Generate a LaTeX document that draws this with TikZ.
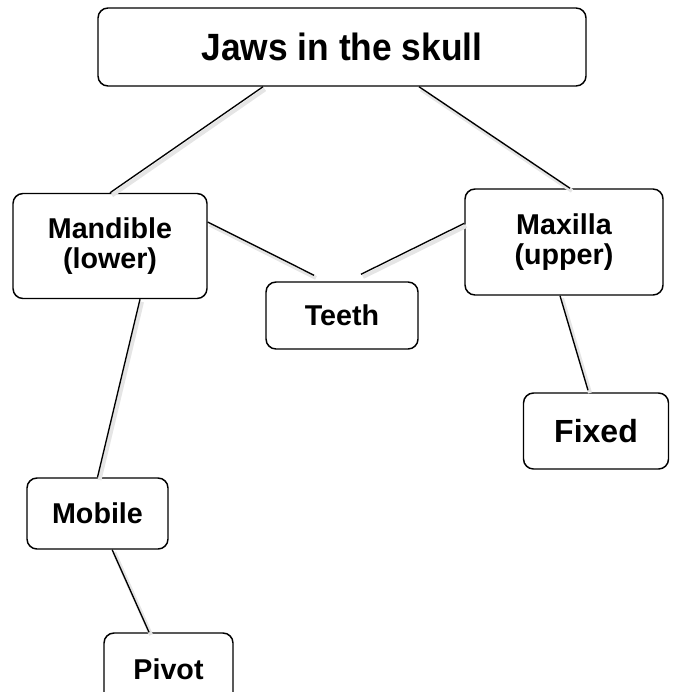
\documentclass[tikz,border=0pt]{standalone}
\usepackage{fontspec}
\setmainfont{Liberation Sans}
\newfontfamily\headfont[FakeStretch=0.93]{Liberation Sans}
\usepackage{tikz}
\usetikzlibrary{positioning,calc}
\tikzset{
  jawbox/.style  = {draw, line width=1.1pt, rectangle, rounded corners=7.5pt,
                    align=center, inner sep=2pt,
                    font=\bfseries\fontsize{21.5}{22.5}\selectfont},
  link/.style    = {line width=1pt,
                    preaction={draw=black!10, line width=3pt,
                               transform canvas={shift={(1.5pt,-2pt)}}}},
}

\begin{document}
\begin{tikzpicture}[x=0.75pt, y=-0.75pt]
\useasboundingbox (0,0) rectangle (672,692);
% ---- boxes ----
\node[jawbox, minimum width=366pt, minimum height=58.5pt,
      font=\headfont\bfseries\fontsize{28.5}{30}\selectfont] (title) at (342,47) {Jaws in the skull};
\node[jawbox, minimum width=145.5pt, minimum height=78.75pt] (mandible) at (110,246) {Mandible\\(lower)};
\node[jawbox, minimum width=148.5pt, minimum height=79.5pt] (maxilla) at (564,242) {Maxilla\\(upper)};
\node[jawbox, minimum width=114pt, minimum height=50.25pt] (teeth) at (342,315.5) {Teeth};
\node[jawbox, minimum width=108.75pt, minimum height=57pt,
      font=\bfseries\fontsize{24}{26}\selectfont] (fixed) at (596,431) {Fixed};
\node[jawbox, minimum width=105.75pt, minimum height=53.25pt] (mobile) at (97.5,513.5) {Mobile};
\node[jawbox, minimum width=96.75pt, minimum height=54pt] (pivot) at (168.5,669) {Pivot};
% ---- connectors ----
\draw[link] ([xshift=-59.25pt]title.south) -- (mandible.north);
\draw[link] ([xshift=57.75pt]title.south) -- ([xshift=4.5pt]maxilla.north);
\draw[link] ([yshift=18pt]mandible.east) -- ([xshift=-21pt,yshift=4.5pt]teeth.north);
\draw[link] ([yshift=14pt]maxilla.west) -- ([xshift=14.25pt,yshift=5.25pt]teeth.north);
\draw[link] ([xshift=22.5pt]mandible.south) -- (mobile.north);
\draw[link] ([xshift=11pt]mobile.south) -- ([xshift=-14.6pt]pivot.north);
\draw[link] ([xshift=-3pt]maxilla.south) -- ([xshift=-6pt,yshift=1.5pt]fixed.north);
\end{tikzpicture}
\end{document}
